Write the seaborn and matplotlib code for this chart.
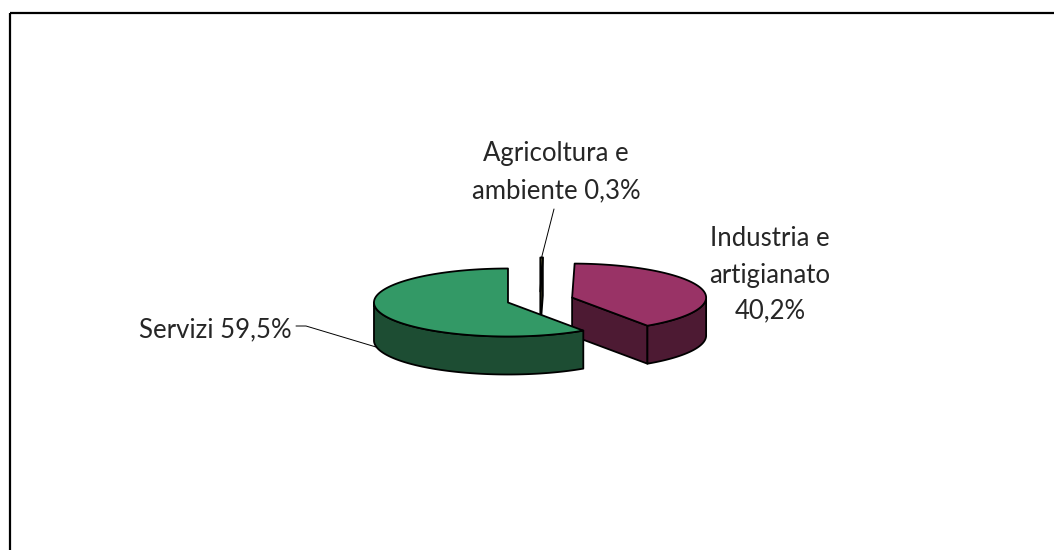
import numpy as np
import matplotlib
matplotlib.use("Agg")
import matplotlib.pyplot as plt
import seaborn as sns
from matplotlib.patches import Polygon, Rectangle

# ---- data ----
categories = ["Agricoltura e\nambiente", "Industria e\nartigianato", "Servizi"]
shares = [0.3, 40.2, 59.5]
label_texts = ["Agricoltura e\nambiente 0,3%", "Industria e\nartigianato\n40,2%", "Servizi 59,5%"]
top_colors = ["#6B6B3A", "#993366", "#339966"]
side_colors = ["#2F2F19", "#4D1A33", "#1D4D33"]

sns.set_theme(style="white")
plt.rcParams["font.family"] = ["Lato", "DejaVu Sans"]

W, H = 1054, 550
fig = plt.figure(figsize=(W / 100, H / 100), dpi=100)
ax = fig.add_axes([0, 0, 1, 1])
ax.set_xlim(0, W)
ax.set_ylim(H, 0)
ax.axis("off")

# chart frame
ax.add_patch(Rectangle((10, 13), 1060, 560, fill=False, ec="black", lw=1.6, zorder=0))

# ---- 3D pie geometry (layout) ----
CX, CY = 540.0, 300.0
RX, RY = 134.0, 34.0
DEPTH = 38.0
EXPLODE = 0.25
EDGE_LW = 1.3

total = float(sum(shares))
bounds = np.concatenate([[0.0], np.cumsum(shares) / total * 360.0])


def rim(cx, cy, th, dz=0.0):
    r = np.radians(th)
    return cx + RX * np.sin(r), cy - RY * np.cos(r) + dz


def arc(cx, cy, a, b, dz=0.0, n=None):
    if n is None:
        n = max(3, int(abs(b - a) * 1.5))
    th = np.linspace(a, b, n)
    r = np.radians(th)
    return np.column_stack([cx + RX * np.sin(r), cy - RY * np.cos(r) + dz])


centers = []
for i, v in enumerate(shares):
    a, b = bounds[i], bounds[i + 1]
    m = np.radians((a + b) / 2)
    cx = CX + EXPLODE * RX * np.sin(m)
    cy = CY - EXPLODE * RY * np.cos(m)
    centers.append((cx, cy))

z = 1
for i, v in enumerate(shares):
    a, b = bounds[i], bounds[i + 1]
    cx, cy = centers[i]
    kw = dict(ec="black", lw=EDGE_LW, joinstyle="round")
    # visible cut faces
    for th, vis in ((a, np.sin(np.radians(a)) < -1e-9), (b, np.sin(np.radians(b)) > 1e-9)):
        if vis:
            rx_, ry_ = rim(cx, cy, th)
            poly = [(cx, cy), (rx_, ry_), (rx_, ry_ + DEPTH), (cx, cy + DEPTH)]
            ax.add_patch(Polygon(poly, closed=True, fc=side_colors[i], zorder=z, **kw))
            z += 1
    # front curved wall
    lo, hi = max(a, 90.0), min(b, 270.0)
    if hi > lo:
        top = arc(cx, cy, lo, hi)
        bot = arc(cx, cy, hi, lo, dz=DEPTH)
        ax.add_patch(Polygon(np.vstack([top, bot]), closed=True, fc=side_colors[i], zorder=z, **kw))
        z += 1
    # top face
    pts = np.vstack([[(cx, cy)], arc(cx, cy, a, b)])
    ax.add_patch(Polygon(pts, closed=True, fc=top_colors[i], zorder=z, **kw))
    z += 1

# ---- labels ----
FS = 18.5
# Agricoltura
tx, ty = rim(*centers[0], (bounds[0] + bounds[1]) / 2)
ax.plot([tx, 554], [ty, 209], color="black", lw=0.7, zorder=20)
ax.text(556, 172, label_texts[0], ha="center", va="center", fontsize=FS,
        linespacing=1.62, zorder=21)
# Industria
ax.text(770, 275, label_texts[1], ha="center", va="center", fontsize=FS,
        linespacing=1.55, zorder=21)
# Servizi
ax.plot([296, 306, 376], [326, 326, 347], color="black", lw=0.7, zorder=20)
ax.text(292, 330, label_texts[2], ha="right", va="center", fontsize=FS, zorder=21)

fig.savefig("out.png", dpi=100, facecolor="white")
